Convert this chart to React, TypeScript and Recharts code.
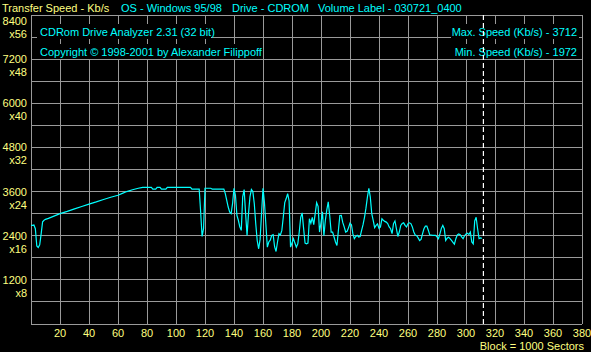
import { CartesianGrid, Line, LineChart, ReferenceLine, XAxis, YAxis } from "recharts";

const blocks = [
  0, 1, 2, 3, 4, 5, 6, 7, 8, 9, 10, 12, 15, 20, 25, 30, 35, 40, 45, 50, 55, 60, 63, 66, 70, 74, 77,
  83, 84, 86, 87, 89, 90, 93, 94, 110, 111, 116, 117, 118, 119, 120, 124, 125, 133, 134, 135, 136,
  137, 138, 139, 140, 141, 142, 143, 144, 145, 146, 147, 148, 149, 150, 151, 152, 153, 154, 155,
  156, 157, 158, 159, 160, 161, 162, 163, 164, 165, 166, 167, 168, 169, 170, 171, 172, 173, 174,
  175, 176, 177, 178, 179, 180, 181, 182, 183, 184, 185, 186, 187, 188, 189, 190, 191, 192, 193,
  194, 195, 196, 197, 198, 199, 200, 201, 202, 203, 204, 205, 206, 207, 208, 209, 210, 211, 212,
  213, 214, 215, 216, 217, 218, 219, 220, 221, 222, 223, 224, 225, 226, 227, 228, 229, 230, 231,
  232, 233, 234, 235, 236, 237, 238, 239, 240, 241, 242, 243, 244, 245, 246, 247, 248, 249, 250,
  251, 252, 253, 254, 255, 256, 257, 258, 259, 260, 261, 262, 263, 264, 265, 266, 267, 268, 269,
  270, 271, 272, 273, 274, 275, 276, 277, 278, 279, 280, 281, 282, 283, 284, 285, 286, 287, 288,
  289, 290, 291, 292, 293, 294, 295, 296, 297, 298, 299, 300, 301, 302, 303, 304, 305, 306, 307,
  308, 309, 310, 311,
];

const speeds = [
  2680, 2680, 2690, 2590, 2120, 2080, 2150, 2450, 2780, 2820, 2845, 2870, 2920, 3000, 3060, 3130,
  3195, 3260, 3320, 3385, 3445, 3500, 3550, 3600, 3650, 3690, 3712,
  3712, 3665, 3665, 3712, 3712, 3665, 3665, 3712, 3712, 3665, 3665, 3045, 2380, 2590, 3690, 3690,
  3665, 3665, 3545, 3360, 3180,
  3045, 3000, 3270, 3690, 3500, 2955, 2820, 2640, 2545, 3455, 3655, 3000, 2410, 3000, 3455, 3655,
  3600, 3270, 2727,
  2270, 2045, 2300, 3000, 3690, 3300, 2700, 2090, 2230, 2280, 2410, 2430, 2100, 1972, 2230, 2455,
  2420, 2545, 2910,
  3300, 3410, 3545, 3350, 2090, 2200, 2320, 2200, 2090, 2180, 2500, 2900, 3020, 2600, 2200, 2180,
  2200, 2860, 2740,
  2900, 2700, 3000, 3300, 3200, 2500, 2750, 3050, 2400, 2820, 3100, 3320, 2950, 2500, 2500, 2365,
  2230, 2135, 2545,
  2950, 2955, 2760, 2640, 2500, 2520, 2620, 2740, 2700, 2450, 2320, 2380, 2410, 2365, 2380, 2545,
  2700, 2900, 3150,
  3450, 3690, 3450, 3000, 2820, 2620, 2680, 2720, 2600, 2640, 2860, 2820, 2790, 2770, 2730, 2640,
  2590, 2455, 2730,
  2800, 2590, 2380, 2500, 2680, 2730, 2750, 2680, 2640, 2730, 2750, 2730, 2640, 2500, 2420, 2400,
  2340, 2270, 2300,
  2450, 2590, 2660, 2660, 2550, 2420, 2420, 2410, 2410, 2410, 2370, 2320, 2450, 2600, 2680, 2590,
  2270, 2330, 2360,
  2320, 2270, 2220, 2170, 2320, 2420, 2450, 2430, 2370, 2320, 2400, 2450, 2470, 2430, 2500, 2230,
  2180, 2800, 2900,
  2590, 2320, 2340, 2330,
];

const blockTicks = [0, 20, 40, 60, 80, 100, 120, 140, 160, 180, 200, 220, 240, 260, 280, 300, 320, 340, 360, 380];
const speedGrid = [0, 600, 1200, 1800, 2400, 3000, 3600, 4200, 4800, 5400, 6000, 6600, 7200, 7800, 8400];
const speedLabels = [1200, 2400, 3600, 4800, 6000, 7200, 8400];
const speedFactors = ["x8", "x16", "x24", "x32", "x40", "x48", "x56"];
const endBlock = 312;

const data = blocks.map((b, i) => ({ block: b, speed: speeds[i] }));

const YELLOW = "#ffff80";
const CYAN = "#00ffff";
const GRID = "#9a9a9a";
const FONT = "'Liberation Sans', Arial, sans-serif";

function SpeedTick({ y, payload }: any) {
  const idx = speedLabels.indexOf(payload.value);
  if (idx < 0) return null;
  // top label is pushed down so it stays below the header line
  const dy = idx === speedLabels.length - 1 ? 10 : 4;
  return (
    <text fill={YELLOW} fontSize={11} fontFamily={FONT} textAnchor="end">
      <tspan x={27} y={y + dy}>{payload.value}</tspan>
      <tspan x={27} y={y + dy + 13}>{speedFactors[idx]}</tspan>
    </text>
  );
}

function BlockTick({ x, payload }: any) {
  if (payload.value === 0) return null;
  return (
    <text x={x} y={337} fill={YELLOW} fontSize={11} fontFamily={FONT} textAnchor="middle">
      {payload.value}
    </text>
  );
}

export default function App() {
  return (
    <div style={{ position: "absolute", left: 0, top: 0, width: 591, height: 352, background: "#000" }}>
      <LineChart width={591} height={352} data={data} margin={{ top: 15, right: 9, left: 0, bottom: 0 }}>
        <CartesianGrid stroke={GRID} shapeRendering="crispEdges" />
        <XAxis
          dataKey="block"
          type="number"
          domain={[0, 380]}
          ticks={blockTicks}
          axisLine={false}
          tickLine={false}
          height={28}
          tick={<BlockTick />}
          interval={0}
        />
        <YAxis
          type="number"
          domain={[0, 8400]}
          ticks={speedGrid}
          axisLine={false}
          tickLine={false}
          width={31}
          tick={<SpeedTick />}
          interval={0}
        />
        <g fontFamily={FONT} fontSize={11}>
          <rect x={37} y={24} width={174} height={15} fill="#000" />
          <rect x={37} y={44} width={219} height={15} fill="#000" />
          <rect x={451} y={24} width={128} height={15} fill="#000" />
          <rect x={451} y={44} width={128} height={15} fill="#000" />
          <text x={40} y={36} fill={CYAN}>CDRom Drive Analyzer 2.31 (32 bit)</text>
          <text x={40} y={56} fill={CYAN}>Copyright © 1998-2001 by Alexander Filippoff</text>
          <text x={577} y={36} fill={CYAN} textAnchor="end">Max. Speed (Kb/s) - 3712</text>
          <text x={577} y={56} fill={CYAN} textAnchor="end">Min. Speed (Kb/s) - 1972</text>
        </g>
        <Line
          type="linear"
          dataKey="speed"
          stroke={CYAN}
          strokeWidth={1.2}
          dot={false}
          isAnimationActive={false}
        />
        <ReferenceLine x={endBlock} stroke="#ffffff" strokeDasharray="5 3" strokeWidth={1.2} />
        <g fontFamily={FONT} fontSize={11}>
          <text x={2} y={12} fill={YELLOW}>Transfer Speed - Kb/s</text>
          <text x={121} y={12} fill={CYAN}>OS - Windows 95/98</text>
          <text x={232} y={12} fill={CYAN}>Drive - CDROM</text>
          <text x={318} y={12} fill={CYAN}>Volume Label - 030721_0400</text>
          <text x={584} y={349.5} fill={YELLOW} textAnchor="end">Block = 1000 Sectors</text>
        </g>
      </LineChart>
    </div>
  );
}
